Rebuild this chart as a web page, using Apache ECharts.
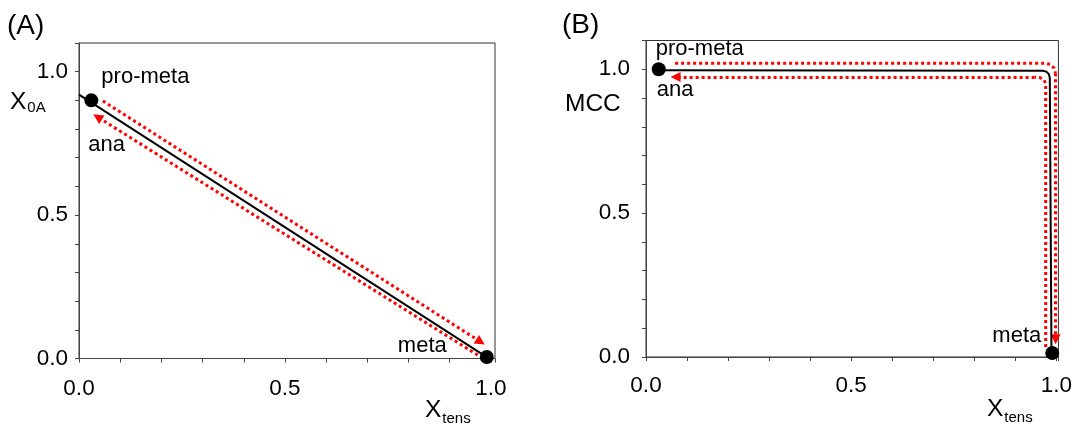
<!DOCTYPE html>
<html><head><meta charset="utf-8">
<script src="https://cdn.jsdelivr.net/npm/echarts@6.0.0/dist/echarts.min.js"></script>
<style>html,body{margin:0;padding:0;background:#fff}#c{width:1075px;height:432px}</style>
</head><body><div id="c"></div>
<script>
// ---- data ----
const tickLabels = ['0.0', '0.5', '1.0'];
const stateNames = ['pro-meta', 'ana', 'meta'];
const panelLabels = ['(A)', '(B)'];
const yNamesMain = ['X', 'MCC'];
const yNamesSub = ['0A', ''];
const xNameMain = 'X';
const xNameSub = 'tens';

// panel A: X0A vs Xtens
const dotsA = [[0.03, 0.9], [0.99, 0.005]];
const pathBlackA = [[0, 0.92], [0.99, 0.005]];
const pathRedFwdA = [[0.058, 0.898], [0.975, 0.058]];
const pathRedBackA = [[0.968, 0.012], [0.045, 0.842]];

// panel B: MCC vs Xtens
const dotsB = [[0.031, 1.0], [0.99, 0.014]];
const pathBlackB = [[0.031, 0.997], [0.967, 0.995], [0.9755, 0.9918], [0.9817, 0.983], [0.984, 0.971], [0.988, 0.03], [0.99, 0.014]];
const pathRedFwdB = [[0.071, 1.021], [0.972, 1.021], [0.985, 1.017], [0.994, 1.005], [0.998, 0.986], [0.998, 0.062]];
const pathRedBackB = [[0.974, 0.035], [0.974, 0.95], [0.970, 0.963], [0.960, 0.971], [0.947, 0.973], [0.072, 0.973]];

// ---- chart ----
const F = 'Liberation Sans, Arial, sans-serif';
const chart = echarts.init(document.getElementById('c'), null, {renderer: 'canvas'});

function fmt(v) {
  const r = Math.round(v * 2);
  return (Math.abs(v * 2 - r) < 1e-6 && tickLabels[r] !== undefined) ? tickLabels[r] : '';
}
function axis(max, margin, gi) {
  return {
    type: 'value', gridIndex: gi, min: 0, max: max, interval: 0.1,
    axisLine: {show: true, lineStyle: {color: '#444', width: 1}},
    axisTick: {show: true, length: 4, inside: false, lineStyle: {color: '#444'}},
    splitLine: {show: false},
    axisLabel: {formatter: fmt, fontSize: 22.5, color: '#000', fontFamily: F, margin: margin, hideOverlap: false, showMinLabel: true, showMaxLabel: true}
  };
}
function lab(text, dx, dy, align) {
  return {show: true, formatter: text, position: 'inside', offset: [dx, dy], align: align, verticalAlign: 'middle', fontSize: 22, color: '#000', opacity: 1, fontFamily: F};
}
const redStyle = {color: '#ff0000', width: 3, type: [3, 3], opacity: 1, curveness: 0};
// dotted path body (polyline, no symbols) + final straight leg carrying the arrowhead
function redPath(path, gi) {
  const out = [];
  if (path.length > 2) {
    out.push({
      type: 'lines', coordinateSystem: 'cartesian2d', xAxisIndex: gi, yAxisIndex: gi,
      polyline: true, silent: true, z: 3, lineStyle: redStyle,
      data: [{coords: path.slice(0, path.length - 1)}]
    });
  }
  out.push({
    type: 'lines', coordinateSystem: 'cartesian2d', xAxisIndex: gi, yAxisIndex: gi,
    polyline: false, silent: true, z: 3,
    symbol: ['none', 'triangle'], symbolSize: 10,
    lineStyle: redStyle, itemStyle: {color: '#ff0000'},
    data: [{coords: path.slice(path.length - 2)}]
  });
  return out;
}
function blackLine(path, gi) {
  return {type: 'line', xAxisIndex: gi, yAxisIndex: gi, data: path, showSymbol: false, symbol: 'none', silent: true, z: 4,
    lineStyle: {color: '#000', width: 2, opacity: 1}};
}
function dots(d, gi, labels) {
  return {type: 'scatter', xAxisIndex: gi, yAxisIndex: gi, symbol: 'circle', symbolSize: 14, silent: true, z: 6,
    itemStyle: {color: '#000', opacity: 1},
    data: d.map((p, i) => ({value: p, label: labels[i]}))};
}
function ghost(p, gi, label) {
  return {type: 'scatter', xAxisIndex: gi, yAxisIndex: gi, symbolSize: 0.01, silent: true, z: 6,
    itemStyle: {color: '#000', opacity: 1}, data: [{value: p, label: label}]};
}
function subName(main, sub, x, y, pad) {
  return {type: 'text', silent: true, style: {
    x: x, y: y, text: sub ? '{m|' + main + '}{s|' + sub + '}' : '{m|' + main + '}',
    align: 'left', verticalAlign: 'middle', fill: '#000',
    rich: {m: {fontSize: 24.5, lineHeight: 24, fontFamily: F, fill: '#000'},
           s: {fontSize: 15, lineHeight: 15, fontFamily: F, fill: '#000', padding: [pad, 0, 0, 1]}}
  }};
}

const option = {
  animation: false,
  backgroundColor: '#fff',
  grid: [
    {left: 79, top: 43, width: 416, height: 315.5, show: true, borderColor: '#333', borderWidth: 1, containLabel: false},
    {left: 646, top: 40.5, width: 413, height: 316.5, show: true, borderColor: '#333', borderWidth: 1, containLabel: false}
  ],
  xAxis: [axis(1.01, 19, 0), axis(1.005, 17, 1)],
  yAxis: [axis(1.1, 11, 0), axis(1.1, 16, 1)],
  series: [
    blackLine(pathBlackA, 0),
    ...redPath(pathRedFwdA, 0),
    ...redPath(pathRedBackA, 0),
    dots(dotsA, 0, [lab(stateNames[0], 10, -23, 'left'), lab(stateNames[2], -40, -11, 'right')]),
    ghost(dotsA[0], 0, lab(stateNames[1], -3, 45, 'left')),
    blackLine(pathBlackB, 1),
    ...redPath(pathRedFwdB, 1),
    ...redPath(pathRedBackB, 1),
    dots(dotsB, 1, [lab(stateNames[0], -3, -20, 'left'), lab(stateNames[2], -11, -17, 'right')]),
    ghost(dotsB[0], 1, lab(stateNames[1], -2, 21, 'left'))
  ],
  graphic: [
    {type: 'text', silent: true, style: {x: 7, y: 26, text: panelLabels[0], fontSize: 28, fontFamily: F, fill: '#000', align: 'left', verticalAlign: 'middle'}},
    {type: 'text', silent: true, style: {x: 562, y: 25, text: panelLabels[1], fontSize: 28, fontFamily: F, fill: '#000', align: 'left', verticalAlign: 'middle'}},
    subName(yNamesMain[0], yNamesSub[0], 10, 102, 11),
    subName(yNamesMain[1], yNamesSub[1], 565, 104, 0),
    subName(xNameMain, xNameSub, 425, 410, 18),
    subName(xNameMain, xNameSub, 987, 409, 18)
  ]
};
chart.setOption(option);
</script></body></html>
